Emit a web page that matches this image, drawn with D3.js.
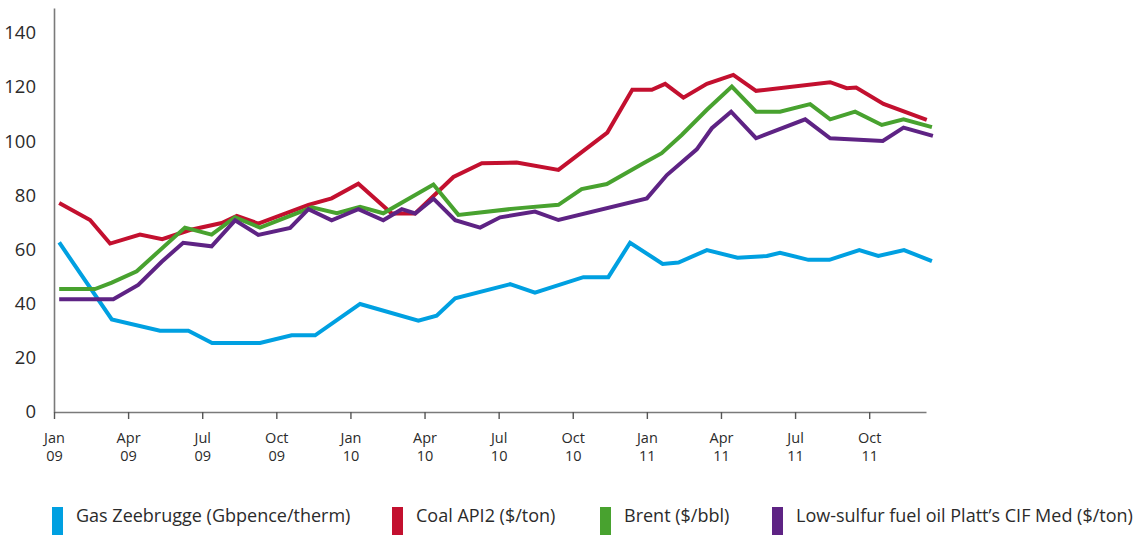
<!DOCTYPE html>
<html>
<head>
<meta charset="utf-8">
<script src="https://cdn.jsdelivr.net/npm/d3@7"></script>
<style>
    body { margin: 0; background: #fff; }
    text { font-family: "Open Sans", "Noto Sans", sans-serif; fill: #2b2b2b; }
</style>
</head>
<body>
<div id="chart"></div>
<script>
// x values are months since Jan 2009 (0 = Jan 09)
const gas = [[0.21, 62.6], [2.34, 34.2], [4.29, 30.0], [5.44, 30.0], [6.40, 25.5], [8.34, 25.5],
    [9.62, 28.3], [10.57, 28.3], [12.39, 39.9], [14.75, 33.7], [15.49, 35.6], [16.24, 42.0],
    [18.46, 47.2], [19.47, 44.1], [21.43, 49.8], [22.44, 49.8], [23.32, 62.5], [24.64, 54.7],
    [25.28, 55.2], [26.43, 59.8], [27.67, 57.0], [28.86, 57.6], [29.39, 58.8], [30.54, 56.2],
    [31.39, 56.2], [32.60, 59.8], [33.37, 57.6], [34.41, 59.8], [35.54, 55.7]];

const coal = [[0.21, 77.2], [1.46, 70.9], [2.27, 62.2], [3.48, 65.5], [4.38, 63.8], [5.50, 67.2],
    [6.79, 69.8], [7.40, 72.4], [8.27, 69.6], [10.30, 76.5], [11.24, 78.9], [12.32, 84.3],
    [13.67, 73.3], [14.62, 73.3], [16.17, 86.8], [17.32, 91.9], [18.73, 92.1], [20.42, 89.4],
    [22.40, 103.2], [23.41, 119.0], [24.20, 119.0], [24.74, 121.2], [25.48, 116.1], [26.43, 121.2],
    [27.50, 124.5], [28.42, 118.6], [31.42, 121.8], [32.09, 119.6], [32.47, 119.8], [33.58, 113.8],
    [35.33, 107.9]];

const brent = [[0.21, 45.4], [1.66, 45.4], [2.34, 47.8], [3.35, 52.0], [5.30, 68.1], [6.38, 65.5],
    [7.33, 71.9], [8.34, 68.1], [10.44, 75.6], [11.45, 73.4], [12.39, 75.8], [13.33, 73.4],
    [15.36, 84.0], [16.37, 72.8], [18.73, 75.2], [20.42, 76.5], [21.36, 82.3], [22.38, 84.2],
    [23.86, 91.9], [24.60, 95.6], [25.41, 102.3], [26.43, 111.6], [27.44, 120.2], [28.42, 110.9],
    [29.39, 110.9], [30.61, 113.7], [31.42, 108.1], [32.43, 110.9], [33.51, 106.0], [34.39, 108.1],
    [35.54, 105.2]];

const lsfo = [[0.21, 41.6], [2.40, 41.6], [3.41, 46.9], [4.36, 55.5], [5.23, 62.5], [6.38, 61.2],
    [7.33, 70.8], [8.27, 65.4], [9.56, 68.0], [10.30, 74.9], [11.24, 70.8], [12.32, 74.9],
    [13.33, 70.8], [14.08, 74.9], [14.62, 73.3], [15.36, 78.8], [16.24, 70.8], [17.25, 68.1],
    [18.06, 71.9], [19.47, 74.0], [20.42, 70.9], [24.00, 78.9], [24.81, 87.5], [26.02, 97.0],
    [26.63, 104.8], [27.41, 110.9], [28.42, 101.1], [30.41, 108.1], [31.42, 101.1], [33.55, 100.1],
    [34.39, 105.0], [35.58, 102.0]];

const seriesNames = ["Gas Zeebrugge (Gbpence/therm)", "Coal API2 ($/ton)", "Brent ($/bbl)",
    "Low-sulfur fuel oil Platt\u2019s CIF Med ($/ton)"];
const seriesColors = ["#00a0e1", "#c3102f", "#48a22f", "#5e2384"];
const seriesData = [gas, coal, brent, lsfo];

const xTickMonths = [0, 3, 6, 9, 12, 15, 18, 21, 24, 27, 30, 33];
const xTickLabels = [["Jan", "09"], ["Apr", "09"], ["Jul", "09"], ["Oct", "09"],
    ["Jan", "10"], ["Apr", "10"], ["Jul", "10"], ["Oct", "10"],
    ["Jan", "11"], ["Apr", "11"], ["Jul", "11"], ["Oct", "11"]];
const yTicks = [0, 20, 40, 60, 80, 100, 120, 140];

const w = 1139;
const h = 535;

const svg = d3.select("#chart")
    .append("svg")
    .attr("width", w)
    .attr("height", h);

const xScale = d3.scaleLinear()
    .domain([0, 35.3])
    .range([54, 926]);

const yScale = d3.scaleLinear()
    .domain([0, 149.2])
    .range([412, 8]);

// Y axis
const yAxis = d3.axisLeft(yScale)
    .tickValues(yTicks)
    .tickSizeInner(0)
    .tickSizeOuter(0)
    .tickPadding(18);

const gy = svg.append("g")
    .attr("transform", "translate(" + xScale(0) + ",0)")
    .call(yAxis);
gy.select(".domain").attr("stroke", "#7a7a7a").attr("stroke-width", 1.6);
gy.selectAll("text")
    .style("font-size", "18.5px")
    .style("font-family", "'Open Sans', sans-serif")
    .attr("fill", "#2b2b2b");

// X axis
const xAxis = d3.axisBottom(xScale)
    .tickValues(xTickMonths)
    .tickSizeInner(7)
    .tickSizeOuter(0)
    .tickFormat("");

const gx = svg.append("g")
    .attr("transform", "translate(0," + yScale(0) + ")")
    .call(xAxis);
gx.select(".domain").attr("stroke", "#7a7a7a").attr("stroke-width", 1.6);
gx.selectAll(".tick line").attr("stroke", "#555").attr("stroke-width", 1.4);

gx.selectAll(".tick")
    .each(function (d, i) {
        const t = d3.select(this).append("text")
            .attr("text-anchor", "middle")
            .style("font-size", "14.5px")
            .style("font-family", "'Open Sans', sans-serif")
            .attr("fill", "#2b2b2b");
        t.append("tspan").attr("x", 0).attr("y", 31).text(xTickLabels[i][0]);
        t.append("tspan").attr("x", 0).attr("y", 49).text(xTickLabels[i][1]);
    });

// Lines
const line = d3.line()
    .x((d) => xScale(d[0]))
    .y((d) => yScale(d[1]));

svg.selectAll("path.series")
    .data(seriesData)
    .enter()
    .append("path")
    .attr("class", "series")
    .attr("fill", "none")
    .attr("stroke", (d, i) => seriesColors[i])
    .attr("stroke-width", 4)
    .attr("stroke-linejoin", "miter")
    .attr("d", line);

// Legend
const legendX = [52, 392, 600, 772];

const legend = svg.selectAll("g.legend")
    .data(seriesNames)
    .enter()
    .append("g")
    .attr("class", "legend")
    .attr("transform", (d, i) => "translate(" + legendX[i] + ",507)");

legend.append("rect")
    .attr("width", 11)
    .attr("height", 28)
    .attr("fill", (d, i) => seriesColors[i]);

legend.append("text")
    .attr("x", 24)
    .attr("y", 15)
    .style("font-size", "18px")
    .text((d) => d);
</script>
</body>
</html>
